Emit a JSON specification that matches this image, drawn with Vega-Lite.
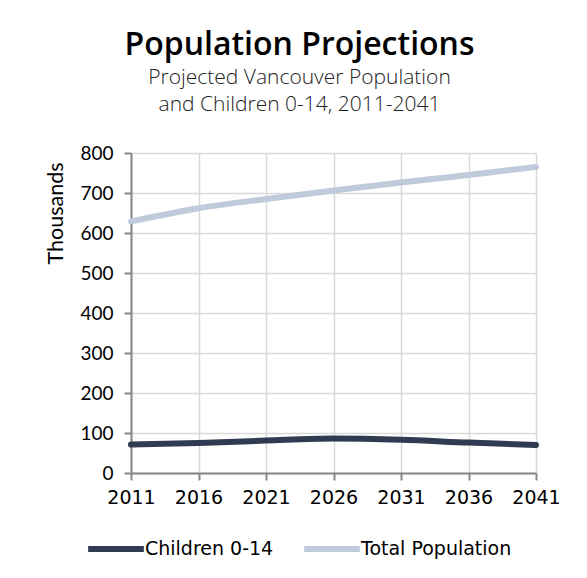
{
  "$schema": "https://vega.github.io/schema/vega-lite/v6.json",
  "autosize": {"type": "none"},
  "padding": {"left": 131, "top": 153, "right": 51, "bottom": 105},
  "width": 405,
  "height": 320,
  "background": "white",
  "title": {
    "text": "Population Projections",
    "subtitle": ["Projected Vancouver Population", "and Children 0-14, 2011-2041"],
    "anchor": "middle",
    "frame": "group",
    "dx": -34,
    "offset": 28,
    "font": "Open Sans",
    "fontSize": 32,
    "fontWeight": 600,
    "color": "#000000",
    "subtitleFont": "Open Sans",
    "subtitleFontSize": 21,
    "subtitleFontWeight": 300,
    "subtitleColor": "#222222",
    "subtitleLineHeight": 27,
    "subtitlePadding": 5
  },
  "data": {
    "values": [
      {"year": 2011, "series": "Children 0-14", "value": 71},
      {"year": 2016, "series": "Children 0-14", "value": 75},
      {"year": 2021, "series": "Children 0-14", "value": 81},
      {"year": 2026, "series": "Children 0-14", "value": 86},
      {"year": 2031, "series": "Children 0-14", "value": 83},
      {"year": 2036, "series": "Children 0-14", "value": 76},
      {"year": 2041, "series": "Children 0-14", "value": 70},
      {"year": 2011, "series": "Total Population", "value": 629},
      {"year": 2016, "series": "Total Population", "value": 662},
      {"year": 2021, "series": "Total Population", "value": 685},
      {"year": 2026, "series": "Total Population", "value": 706},
      {"year": 2031, "series": "Total Population", "value": 726},
      {"year": 2036, "series": "Total Population", "value": 745},
      {"year": 2041, "series": "Total Population", "value": 765}
    ]
  },
  "mark": {"type": "line", "interpolate": "monotone", "strokeWidth": 6, "strokeCap": "round"},
  "encoding": {
    "x": {
      "field": "year",
      "type": "quantitative",
      "scale": {"domain": [2011, 2041], "nice": false, "zero": false},
      "axis": {
        "values": [2011, 2016, 2021, 2026, 2031, 2036, 2041],
        "format": "d",
        "title": null,
        "labelFont": "DejaVu Sans",
        "labelFontSize": 19,
        "labelColor": "#000000",
        "labelPadding": 8,
        "labelFlush": false,
        "tickSize": 7,
        "tickColor": "#868686",
        "tickWidth": 2,
        "domainColor": "#868686",
        "domainWidth": 2,
        "gridColor": "#D9D9D9",
        "gridWidth": 1.5,
        "labelOverlap": false
      }
    },
    "y": {
      "field": "value",
      "type": "quantitative",
      "scale": {"domain": [0, 800], "nice": false},
      "axis": {
        "values": [0, 100, 200, 300, 400, 500, 600, 700, 800],
        "title": "Thousands",
        "titleAnchor": "end",
        "titleAlign": "right",
        "titleY": 9,
        "titleFont": "Lato",
        "titleFontSize": 21.5,
        "titleFontWeight": "normal",
        "titleColor": "#000000",
        "titlePadding": 12,
        "labelFont": "Lato",
        "labelFontSize": 19,
        "labelColor": "#000000",
        "labelPadding": 11,
        "tickSize": 7,
        "tickColor": "#868686",
        "tickWidth": 2,
        "domainColor": "#868686",
        "domainWidth": 2,
        "gridColor": "#D9D9D9",
        "gridWidth": 1.5
      }
    },
    "color": {
      "field": "series",
      "type": "nominal",
      "scale": {"domain": ["Children 0-14", "Total Population"], "range": ["#2E3B50", "#BFCADB"]},
      "legend": {
        "title": null,
        "orient": "none",
        "legendX": -46,
        "legendY": 365,
        "direction": "horizontal",
        "symbolType": "stroke",
        "symbolSize": 3100,
        "symbolStrokeWidth": 6,
        "labelFont": "DejaVu Sans",
        "labelFontSize": 19,
        "labelColor": "#000000",
        "labelOffset": -2,
        "columnPadding": 18
      }
    }
  },
  "config": {
    "view": {"stroke": null}
  }
}
